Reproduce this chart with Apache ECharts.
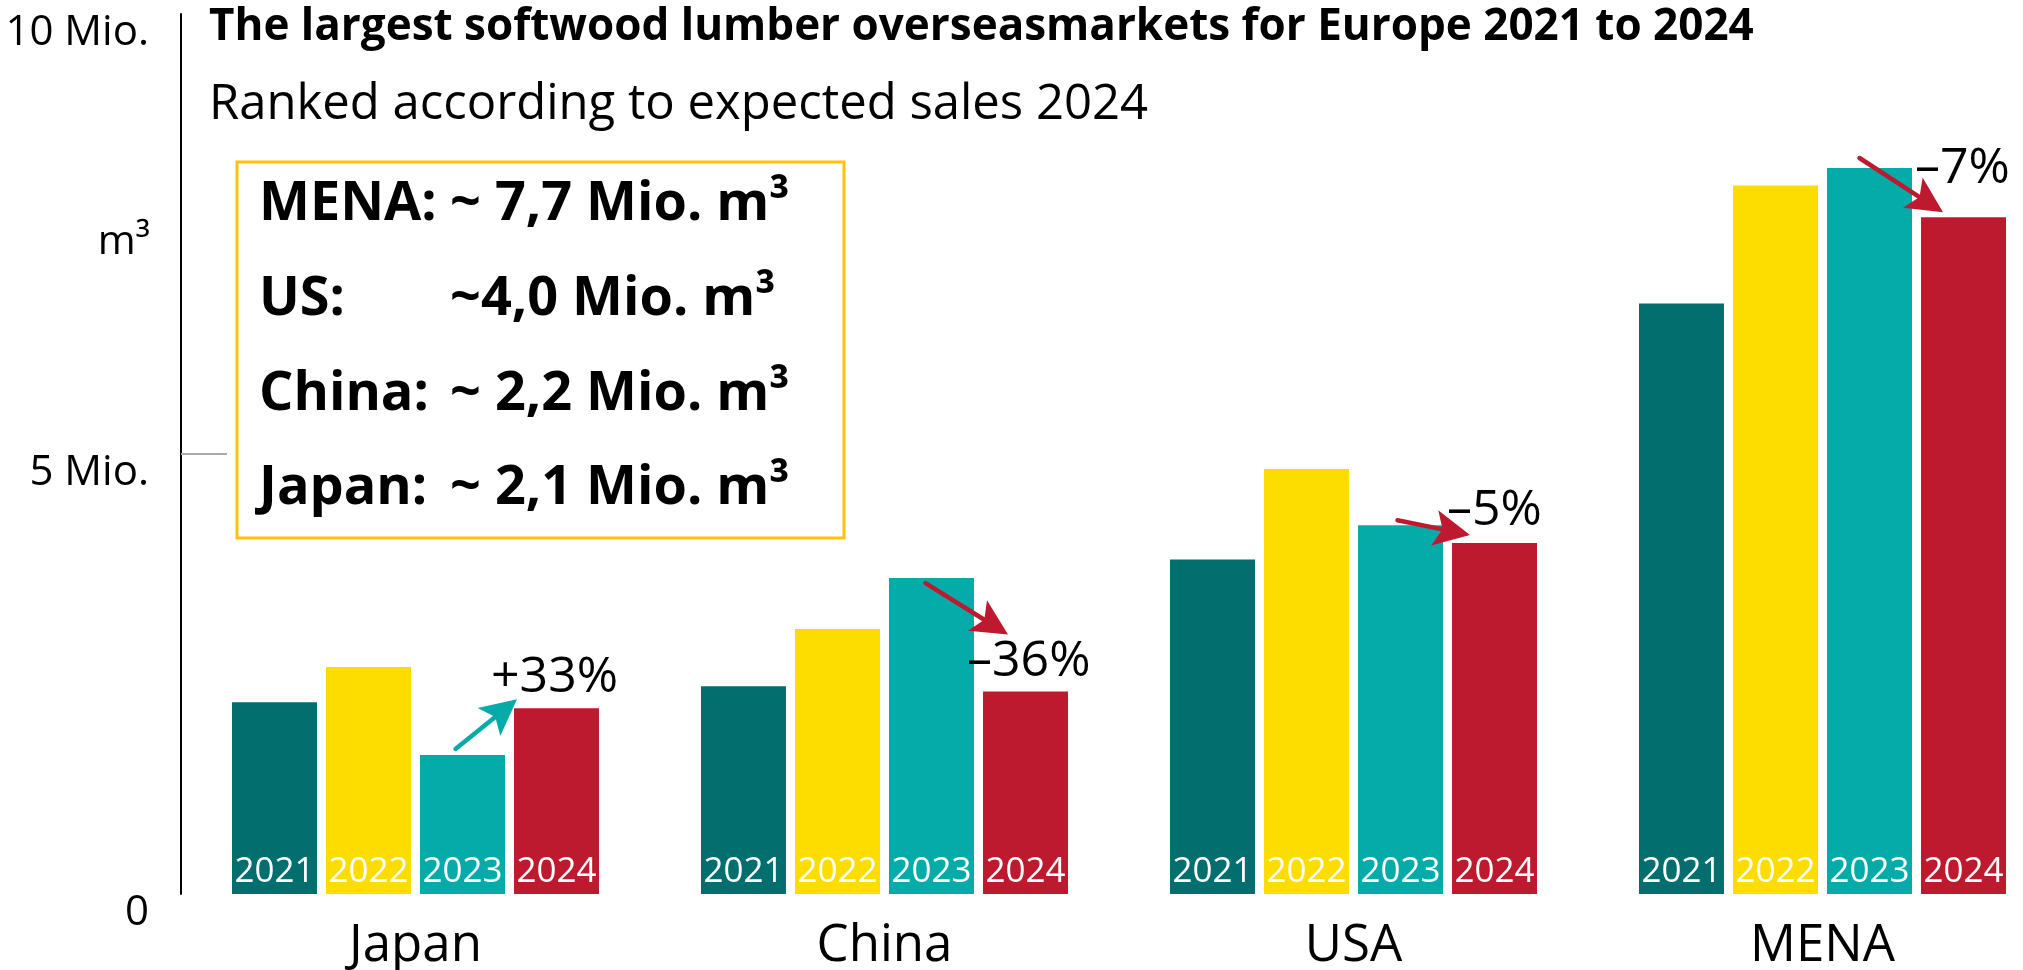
<!DOCTYPE html>
<html>
<head>
<meta charset="utf-8">
<title>Softwood lumber overseas markets</title>
<script src="https://cdn.jsdelivr.net/npm/echarts@6.0.0/dist/echarts.min.js"></script>
<style>
  html, body { margin: 0; padding: 0; background: #fff; }
  #chart { width: 2023px; height: 970px; }
</style>
</head>
<body>
<div id="chart"></div>
<script>
const categories = ['Japan', 'China', 'USA', 'MENA']
const years = ['2021', '2022', '2023', '2024']
// Mio. m³, in category order
const values2021 = [2.18, 2.36, 3.80, 6.71]
const values2022 = [2.58, 3.01, 4.83, 8.05]
const values2023 = [1.58, 3.59, 4.19, 8.25]
const values2024 = [2.11, 2.30, 3.99, 7.69]
const yTicks = [0, 5, 10]
const yTickLabels = ['0', '5 Mio.', '10 Mio.']
const changeLabels = ['+33%', '–36%', '–5%', '–7%']
const boxLabels = ['MENA:', 'US:', 'China:', 'Japan:']
const boxValues = ['~ 7,7 Mio. m³', '~4,0 Mio. m³', '~ 2,2 Mio. m³', '~ 2,1 Mio. m³']

const titleText = 'The largest softwood lumber overseasmarkets for Europe 2021 to 2024'
const subtitleText = 'Ranked according to expected sales 2024'

const yearColors = ['#026E6E', '#FDDC00', '#05ABA8', '#BE1A2F']
const FONT = '"Open Sans", "Noto Sans", sans-serif'

const chart = echarts.init(document.getElementById('chart'))

const seriesValues = [values2021, values2022, values2023, values2024]
const series = years.map((year, i) => {
  return {
    name: year,
    type: 'bar',
    barWidth: 85,
    barGap: '10.6%',
    data: seriesValues[i],
    itemStyle: { color: yearColors[i] },
    label: {
      show: true,
      position: 'insideBottom',
      distance: 5,
      formatter: '{a}',
      color: '#fff',
      fontSize: 35,
      lineHeight: 34,
      fontFamily: FONT
    },
    emphasis: { disabled: true }
  }
})

const option = {
  animation: false,
  backgroundColor: '#fff',
  textStyle: { fontFamily: FONT },
  title: [
    {
      text: titleText,
      left: 209,
      top: 5,
      padding: 0,
      textStyle: { fontSize: 44, fontWeight: 'bold', color: '#000', fontFamily: FONT }
    },
    {
      text: subtitleText,
      left: 209,
      top: 81,
      padding: 0,
      textStyle: { fontSize: 49, fontWeight: 'normal', color: '#000', fontFamily: FONT }
    }
  ],
  grid: { left: 181, top: 14, width: 1876, height: 880, outerBoundsMode: 'none' },
  xAxis: {
    type: 'category',
    data: categories,
    axisLine: { show: false },
    axisTick: { show: false },
    axisLabel: { fontSize: 51, lineHeight: 50, color: '#000', margin: 27, fontFamily: FONT }
  },
  yAxis: {
    type: 'value',
    min: 0,
    max: 10,
    interval: 5,
    splitLine: { show: false },
    axisLine: { show: true, lineStyle: { color: '#000', width: 2 } },
    axisTick: {
      show: true,
      inside: true,
      length: 46,
      customValues: [5],
      lineStyle: { color: '#aaa', width: 2 }
    },
    axisLabel: {
      customValues: yTicks,
      formatter: v => yTickLabels[yTicks.indexOf(v)],
      fontSize: 42,
      lineHeight: 38,
      verticalAlign: 'top',
      color: '#000',
      margin: 32,
      fontFamily: FONT
    }
  },
  series: series
}

chart.setOption(option)

// bar rectangle from the library's own layout
function barRect(seriesIndex, dataIndex) {
  const l = chart.getModel().getSeriesByIndex(seriesIndex).getData().getItemLayout(dataIndex)
  return {
    left: l.x,
    top: Math.min(l.y, l.y + l.height),
    center: l.x + l.width / 2
  }
}

function arrow(tail, tip, color) {
  const dx = tip[0] - tail[0]
  const dy = tip[1] - tail[1]
  const len = Math.hypot(dx, dy)
  const ux = dx / len
  const uy = dy / len
  const px = -uy
  const py = ux
  const headLen = 36
  const headHalf = 18
  const notch = 8
  const base = [tip[0] - ux * headLen, tip[1] - uy * headLen]
  const inner = [tip[0] - ux * (headLen - notch), tip[1] - uy * (headLen - notch)]
  return [
    {
      type: 'line',
      z: 100,
      shape: { x1: tail[0], y1: tail[1], x2: inner[0], y2: inner[1] },
      style: { stroke: color, lineWidth: 4.5, lineCap: 'round' }
    },
    {
      type: 'polygon',
      z: 100,
      shape: {
        points: [
          tip,
          [base[0] + px * headHalf, base[1] + py * headHalf],
          inner,
          [base[0] - px * headHalf, base[1] - py * headHalf]
        ]
      },
      style: { fill: color }
    }
  ]
}

// tail: offset from top centre of 2023 bar; tip + label: offset from top left of 2024 bar
const annoLayout = [
  { tail: [-7, -6], tip: [3, -9], label: [-23, -31], color: yearColors[2] },
  { tail: [-6, 5], tip: [25, -57], label: [-16, -30], color: yearColors[3] },
  { tail: [-3, -5], tip: [18, -8], label: [-5, -32], color: yearColors[3] },
  { tail: [-10, -10], tip: [22, -5], label: [-6, -49], color: yearColors[3] }
]

const graphics = []

categories.forEach((c, i) => {
  const b23 = barRect(2, i)
  const b24 = barRect(3, i)
  const a = annoLayout[i]
  const tail = [b23.center + a.tail[0], b23.top + a.tail[1]]
  const tip = [b24.left + a.tip[0], b24.top + a.tip[1]]
  arrow(tail, tip, a.color).forEach(g => graphics.push(g))
  graphics.push({
    type: 'text',
    z: 100,
    style: {
      x: b24.left + a.label[0],
      y: b24.top + a.label[1],
      text: changeLabels[i],
      fill: '#000',
      font: '50px ' + FONT,
      textAlign: 'left',
      align: 'left',
      textVerticalAlign: 'middle',
      verticalAlign: 'middle'
    }
  })
})

// unit label
graphics.push({
  type: 'text',
  z: 100,
  style: {
    x: 150,
    y: 242,
    text: 'm³',
    fill: '#000',
    font: '41px ' + FONT,
    textAlign: 'right',
    align: 'right',
    textVerticalAlign: 'middle',
    verticalAlign: 'middle'
  }
})

// info box
graphics.push({
  type: 'rect',
  z: 100,
  shape: { x: 237, y: 162, width: 607, height: 376 },
  style: { fill: 'none', stroke: '#FFC20E', lineWidth: 3 }
})
boxLabels.forEach((t, i) => {
  const y = 205 + i * 94.7
  graphics.push({
    type: 'text',
    z: 100,
    style: {
      x: 259, y: y, text: t, fill: '#000', font: 'bold 54px ' + FONT,
      textAlign: 'left', align: 'left', textVerticalAlign: 'middle', verticalAlign: 'middle'
    }
  })
  graphics.push({
    type: 'text',
    z: 100,
    style: {
      x: 450, y: y, text: boxValues[i], fill: '#000', font: 'bold 54px ' + FONT,
      textAlign: 'left', align: 'left', textVerticalAlign: 'middle', verticalAlign: 'middle'
    }
  })
})

chart.setOption({ graphic: { elements: graphics } })
</script>
</body>
</html>
